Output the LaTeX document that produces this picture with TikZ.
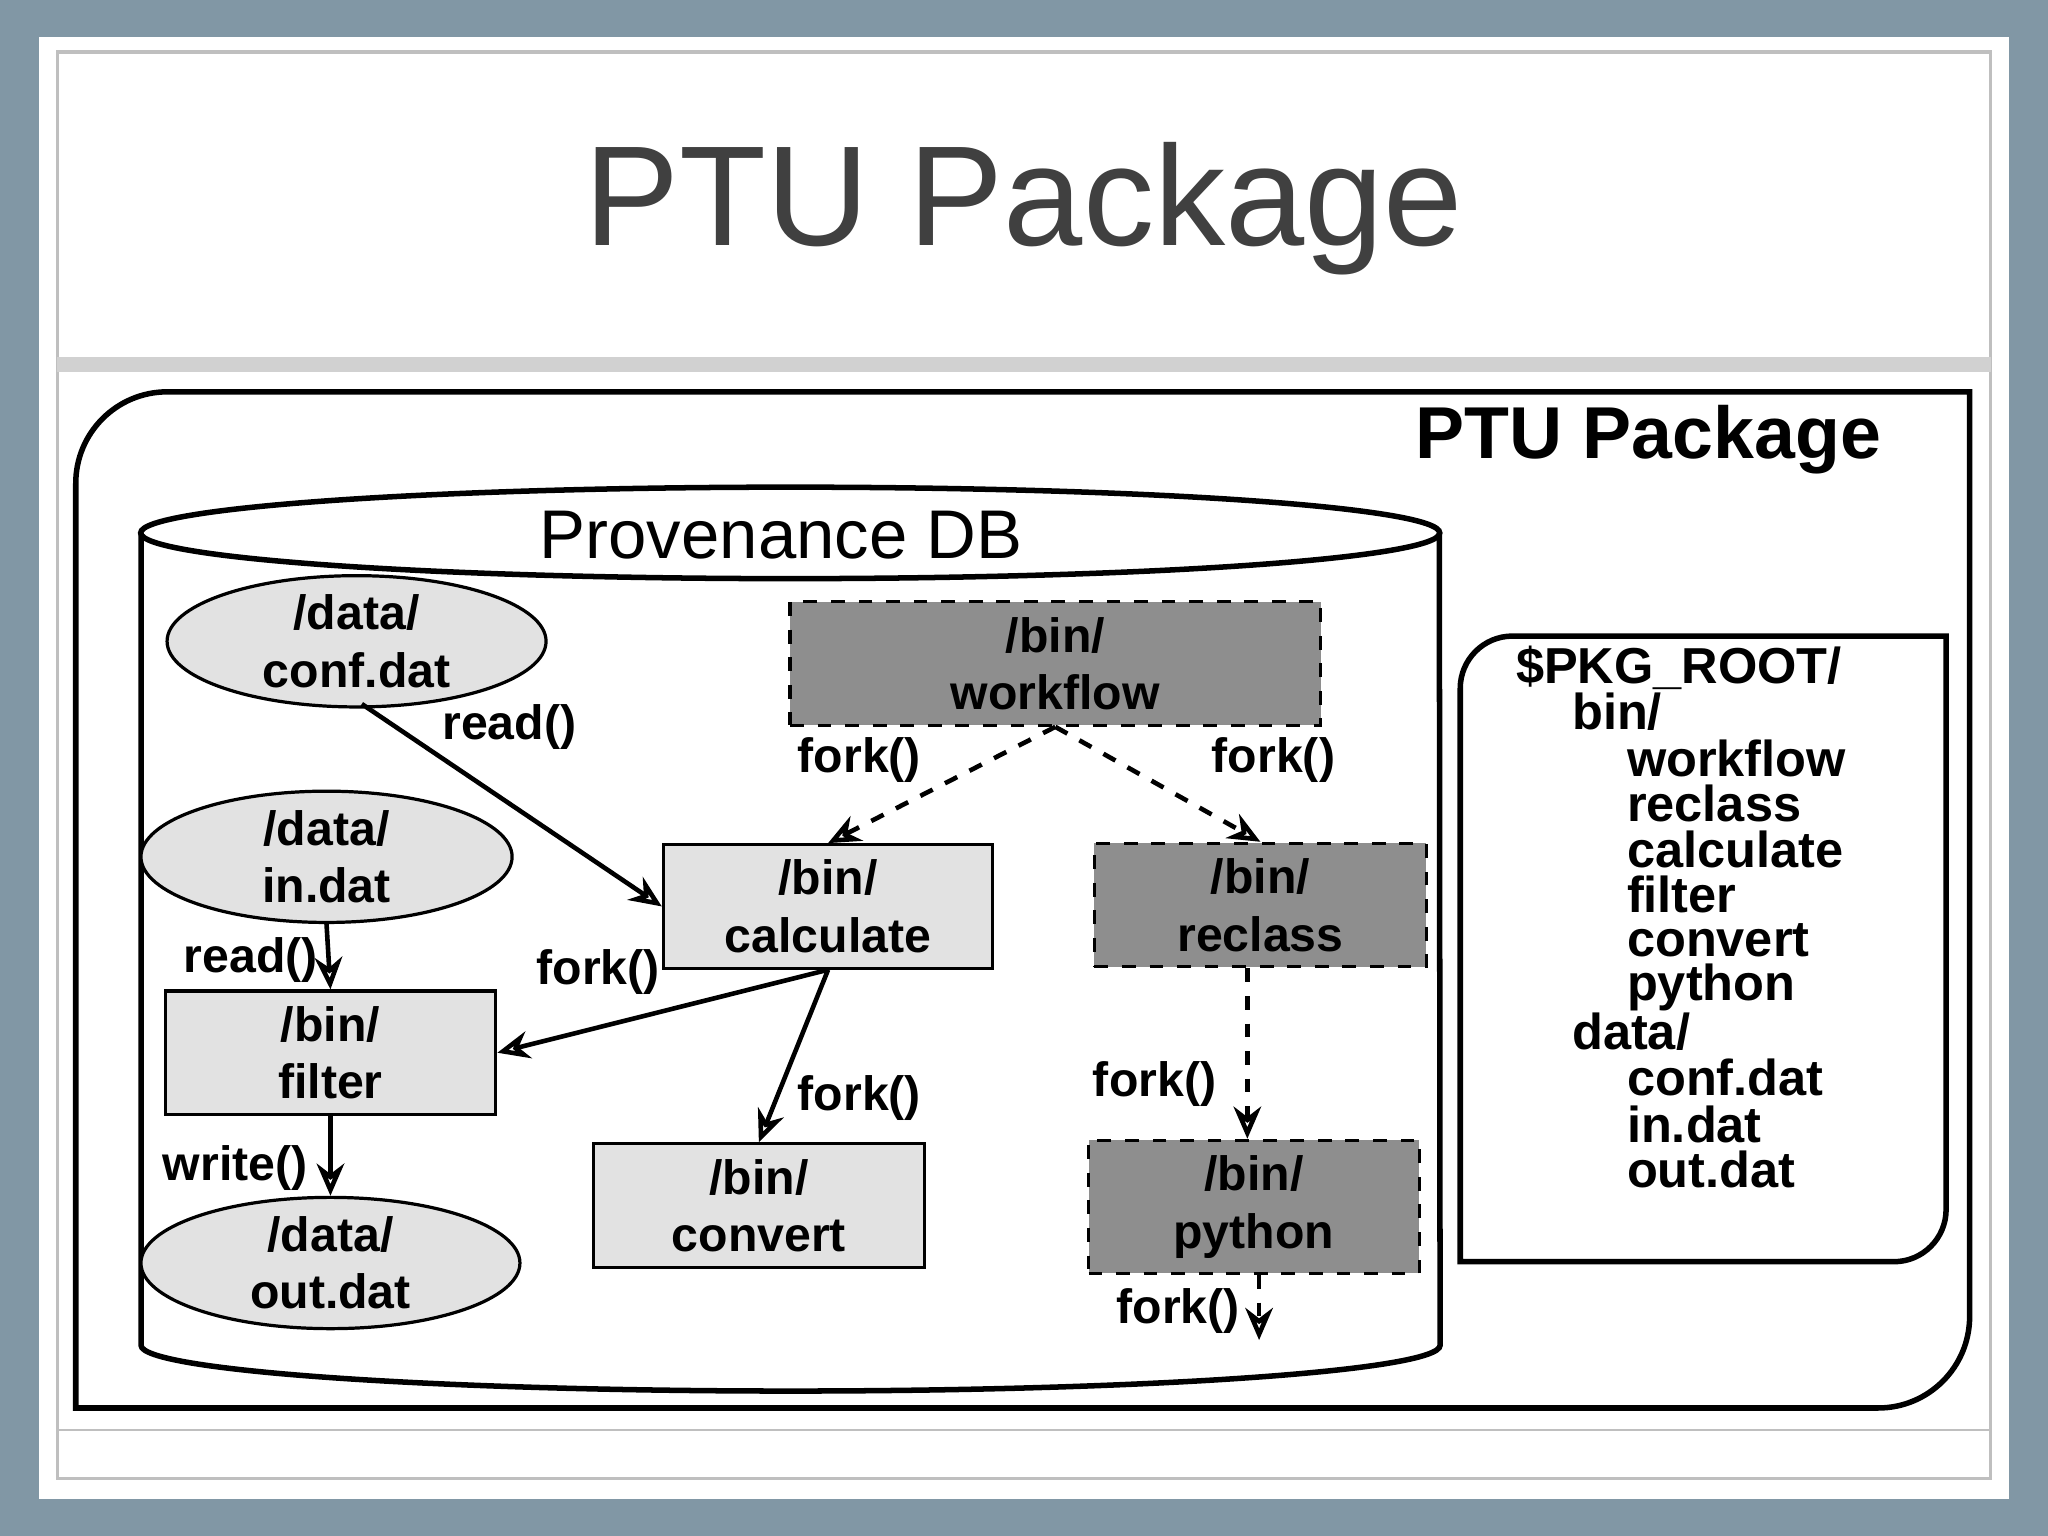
\documentclass[tikz,border=0pt]{standalone}
\usepackage{fontspec}
\setmainfont{Liberation Sans}
\usetikzlibrary{shapes.geometric,arrows.meta}
\definecolor{bgc}{HTML}{8197A5}
\definecolor{lg}{HTML}{E2E2E2}
\definecolor{dg}{HTML}{8E8E8E}
\begin{document}
\begin{tikzpicture}[x=0.01cm,y=-0.01cm,
  lbl/.style={font=\bfseries\fontsize{10.5}{12}\selectfont},
  ell/.style={ellipse,draw,fill=lg,line width=0.7pt,align=center,font=\bfseries\fontsize{10.5}{12.5}\selectfont,inner sep=0pt},
  box/.style={draw,line width=0.7pt,align=center,font=\bfseries\fontsize{10.5}{12.5}\selectfont},
  lbox/.style={box,fill=lg},
  dbox/.style={box,fill=dg,dashed},
  arr/.style={-{Stealth[length=7pt,width=6pt,open]},line width=1pt},
  darr/.style={arr,dashed}]
\useasboundingbox (0,0) rectangle (1568,1176);
\fill[bgc] (0,0) rectangle (1568,1176);
\fill[white] (30,28) rectangle (1538,1148);
\draw[black!25,line width=0.8pt] (44,40) rectangle (1524,1132);
\fill[black!18] (44,273) rectangle (1524,285);
\draw[black!25] (44,1095) -- (1524,1095);
\node[text=black!75,font=\fontsize{31}{36}\selectfont] (title) at (784,160) {PTU Package};
% package outline
\draw[line width=1.2pt] (58,1078) [rounded corners=0.7cm] -- (58,300) [sharp corners] -- (1508,300) [rounded corners=0.7cm] -- (1508,1078) [sharp corners] -- cycle;
\node[font=\bfseries\fontsize{16}{20}\selectfont] (pkg) at (1262,337) {PTU Package};
% cylinder
\draw[line width=1.2pt] (108,408) -- (108,1030) arc[start angle=180,end angle=360,x radius=4.97cm,y radius=0.35cm] -- (1102,408);
\draw[line width=1.2pt] (605,408) ellipse[x radius=4.97cm,y radius=0.35cm];
\node[font=\fontsize{15}{18}\selectfont] (db) at (598,410) {Provenance DB};
% nodes
\node[ell,minimum width=2.9cm,minimum height=0.94cm] (conf) at (273,491) {/data/\\conf.dat};
\node[ell,minimum width=2.84cm,minimum height=0.8cm] (in) at (250,656) {/data/\\in.dat};
\node[ell,minimum width=2.9cm,minimum height=0.94cm] (out) at (253,967) {/data/\\out.dat};
\node[dbox,minimum width=4.06cm,minimum height=0.9cm] (wf) at (808,508) {/bin/\\workflow};
\node[lbox,minimum width=2.52cm,minimum height=0.91cm] (calc) at (634,694) {/bin/\\calculate};
\node[dbox,minimum width=2.54cm,minimum height=0.91cm] (recl) at (965,693) {/bin/\\reclass};
\node[lbox,minimum width=2.53cm,minimum height=0.91cm] (filt) at (253,806) {/bin/\\filter};
\node[lbox,minimum width=2.53cm,minimum height=0.91cm] (conv) at (581,923) {/bin/\\convert};
\node[dbox,minimum width=2.53cm,minimum height=0.9cm] (py) at (960,924) {/bin/\\python};
\coordinate (pyend) at (964,1026);
% right box
\draw[line width=1.2pt] (1118,966) [rounded corners=0.4cm] -- (1118,487) [sharp corners] -- (1490,487) [rounded corners=0.4cm] -- (1490,966) [sharp corners] -- cycle;
\begin{scope}[every node/.style={anchor=west,inner sep=0pt,font=\bfseries\fontsize{11}{13}\selectfont}]
\node (t1) at (1160,511) {\$PKG\_ROOT/};
\node (t2) at (1203,545) {bin/};
\node (t3) at (1245,581) {workflow};
\node (t4) at (1245,615) {reclass};
\node (t5) at (1245,650) {calculate};
\node (t6) at (1245,685) {filter};
\node (t7) at (1245,720) {convert};
\node (t8) at (1245,756) {python};
\node (t9) at (1203,790) {data/};
\node (t10) at (1245,825) {conf.dat};
\node (t11) at (1245,861) {in.dat};
\node (t12) at (1245,895) {out.dat};
\end{scope}
% edges
\draw[arr] (277,539) -- (calc.west);
\node[lbl] (l1) at (390,557) {read()};
\draw[darr] (wf.south) -- (calc.north);
\node[lbl] (l2) at (658,582) {fork()};
\draw[darr] (wf.south) -- (recl.north);
\node[lbl] (l3) at (975,582) {fork()};
\draw[arr] (in.south) -- (filt.north);
\node[lbl] (l4) at (192,735) {read()};
\draw[arr] (calc.south) -- (filt.east);
\node[lbl] (l5) at (458,744) {fork()};
\draw[arr] (calc.south) -- (conv.north);
\node[lbl] (l6) at (658,841) {fork()};
\draw[darr] (recl.south -| 955,0) -- (py.north -| 955,0);
\node[lbl] (l7) at (884,830) {fork()};
\draw[arr] (filt.south) -- (out.north);
\node[lbl] (l8) at (180,894) {write()};
\draw[darr] (py.south -| pyend) -- (pyend);
\node[lbl] (l9) at (902,1004) {fork()};
\end{tikzpicture}
\end{document}
